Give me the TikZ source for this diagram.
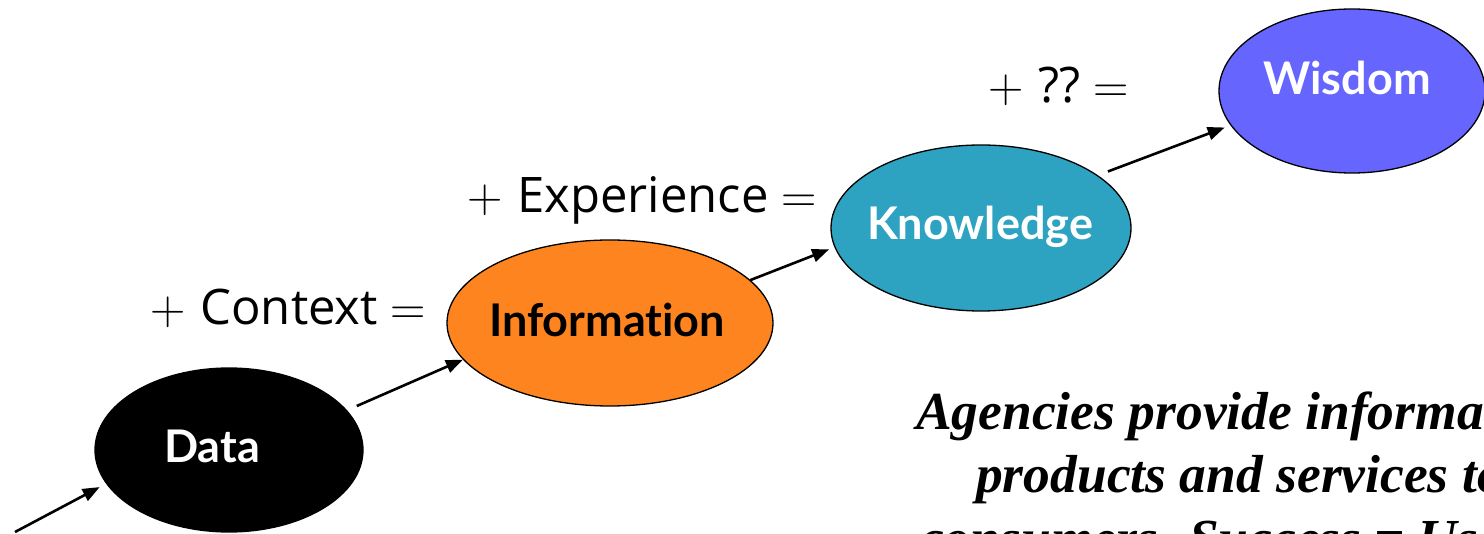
\documentclass[tikz,border=0pt]{standalone}
\usepackage{fontspec}
\setmainfont{Liberation Serif}
\newfontfamily\lblfont{Open Sans}
\newfontfamily\ellfont[Ligatures={NoCommon,NoRare,NoDiscretionary}]{Lato}
\newfontfamily\lmfont{Latin Modern Roman}
\usetikzlibrary{shapes.geometric,arrows.meta,calc}
\definecolor{infoC}{HTML}{FD841F}
\definecolor{knowC}{HTML}{2EA3C1}
\definecolor{wisC}{HTML}{6666FF}
\newcommand{\plusgap}{{\lmfont +}\hspace{15pt}}
\newcommand{\eqgap}{\hspace{13pt}{\lmfont =}}
\begin{document}
\begin{tikzpicture}[x=1pt,y=-1pt,
  ell/.style={ellipse, draw=black, line width=1.3pt, inner sep=0pt},
  elltext/.style={font=\ellfont\bfseries\fontsize{45}{54}\selectfont, anchor=base, inner sep=0pt},
  lbl/.style={font=\lblfont\fontsize{49}{58}\selectfont, anchor=base west, inner sep=0pt},
  body/.style={font=\bfseries\itshape\fontsize{53.5}{63}\selectfont, anchor=base west, inner sep=0pt},
  arr/.style={line width=2.6pt, -{Triangle[length=17pt,width=13pt]}}]
\useasboundingbox (0,0) rectangle (1484,534);
\clip (0,0) rectangle (1484,534);
% ellipses
\node[ell, fill=black, minimum width=268pt, minimum height=164pt] (d) at (229,450) {};
\node[ell, fill=infoC, minimum width=326pt, minimum height=166pt] (i) at (610,323) {};
\node[ell, fill=knowC, minimum width=300pt, minimum height=166pt] (k) at (981,228) {};
\node[ell, fill=wisC, minimum width=266pt, minimum height=164pt] (w) at (1352,91) {};
% ellipse texts
\node[elltext, text=white] (dt) at (212,463) {Data};
\node[elltext, text=black] (it) at (607,337) {Information};
\node[elltext, text=white] (kt) at (980,240) {Knowledge};
\node[elltext, text=white] (wt) at (1347,95) {Wisdom};
% labels
\node[lbl] (l1) at (150,325) {\plusgap Context\eqgap};
\node[lbl] (l2) at (467,213) {\plusgap Experience\eqgap};
\node[lbl] (l3) at (988,103) {\plusgap ??\eqgap};
% arrows
\coordinate (start) at (15,532);
\draw[arr] (start) -- ($(d.center)!1.06!(d.196)$);
\draw[arr] ($(d.center)!1.088!(d.19)$) -- ($(i.center)!1.0!(i.194)$);
\draw[arr] ($(i.center)!1.0!(i.17)$) -- ($(k.center)!1.04!(k.188)$);
\draw[arr] ($(k.center)!1.08!(k.24)$) -- ($(w.center)!1.05!(w.196)$);
% body text
\node[body] (b1) at (916,430) {Agencies provide information};
\node[body] (b2) at (976,493) {products and services to};
\node[body] (b3) at (920,556) {consumers. Success = Use};
\end{tikzpicture}
\end{document}
